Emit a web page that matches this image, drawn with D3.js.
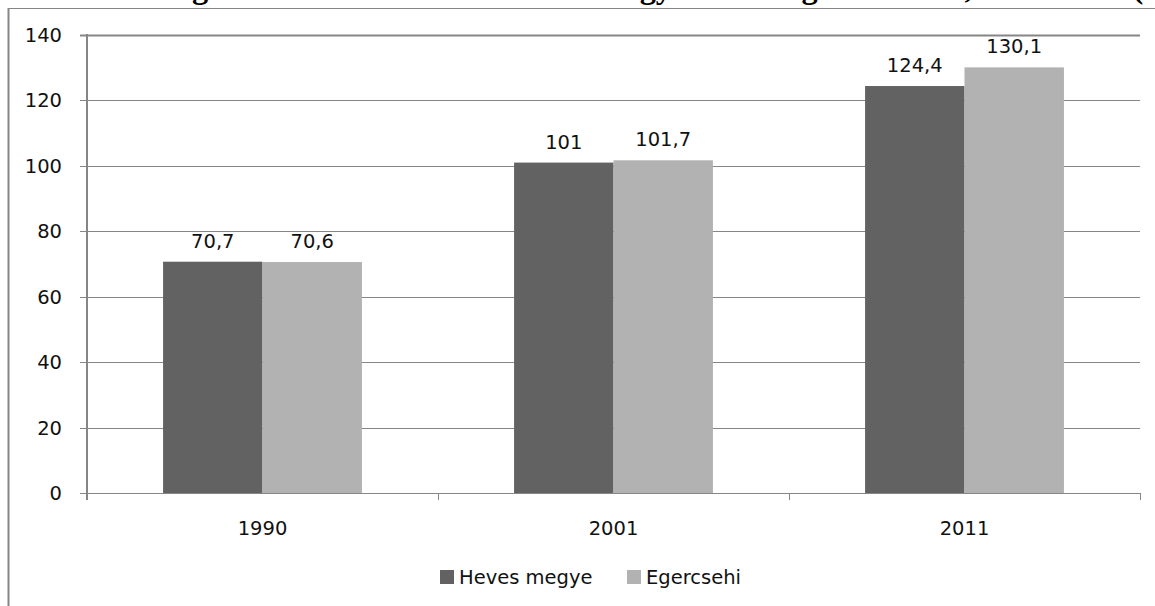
<!DOCTYPE html>
<html><head><meta charset="utf-8">
<script src="https://cdn.jsdelivr.net/npm/d3@7"></script>
<style>body{margin:0;background:#fff;overflow:hidden}svg{display:block;overflow:hidden}</style>
</head><body>
<svg id="c" width="1155" height="606"></svg>
<script>
const title = "3. táblázat: Az öregedési index alakulása Heves megyében és Egercsehiben, 1990–2011 (%)";
const categories = ["1990", "2001", "2011"];
const seriesNames = ["Heves megye", "Egercsehi"];
const hevesValues = [70.7, 101, 124.4];
const egercsehiValues = [70.6, 101.7, 130.1];
const valueLabels = [["70,7", "101", "124,4"], ["70,6", "101,7", "130,1"]];
const yTicks = [0, 20, 40, 60, 80, 100, 120, 140];
const colors = ["#626262", "#b2b2b2"];

const svg = d3.select("#c");
const font = "'DejaVu Sans', sans-serif";
const fs = 19.5;

// clipped title at very top: only the lowest pixels and descenders are visible
svg.append("clipPath").attr("id", "titleClip")
  .append("rect").attr("x", 0).attr("y", 0).attr("width", 1155).attr("height", 8);
const t = svg.append("g").attr("clip-path", "url(#titleClip)")
  .append("text").attr("x", 0).attr("y", -2)
  .attr("font-family", "'Liberation Serif', serif").attr("font-weight", "bold")
  .attr("font-size", 26).attr("fill", "#000")
  .text(title);
try {
  const node = t.node();
  const gi = title.indexOf("öregedési") + 3;
  const pi = title.lastIndexOf("(");
  const a = node.getStartPositionOfChar(gi).x;
  const b = node.getStartPositionOfChar(pi).x;
  if (b > a) {
    const s = (1133 - 192) / (b - a);
    t.attr("font-size", 26 * s);
    const a2 = node.getStartPositionOfChar(gi).x;
    t.attr("x", 192 - a2);
  }
} catch (e) { t.attr("x", -57); }

// outer frame
svg.append("line").attr("x1", 8).attr("x2", 1155).attr("y1", 8.5).attr("y2", 8.5)
  .attr("stroke", "#868686").attr("stroke-width", 1);
svg.append("line").attr("x1", 8.5).attr("x2", 8.5).attr("y1", 8).attr("y2", 606)
  .attr("stroke", "#868686").attr("stroke-width", 2);

const pLeft = 87, pRight = 1140, pTop = 35, pBottom = 493;
const x = d3.scaleBand().domain(categories).range([pLeft, pRight]).paddingInner(0).paddingOuter(0);
const y = d3.scaleLinear().domain([0, 140]).range([pBottom, pTop]);
const barW = x.bandwidth() / 3.53;
const x1 = d3.scaleBand().domain([0, 1]).range([0, 2 * barW]);

// gridlines
svg.append("g").selectAll("line").data(yTicks).join("line")
  .attr("x1", pLeft - 7).attr("x2", pRight)
  .attr("y1", d => Math.round(y(d)) + 0.5).attr("y2", d => Math.round(y(d)) + 0.5)
  .attr("stroke", "#868686").attr("stroke-width", d => d === 140 ? 2 : 1);

// y tick labels
svg.append("g").selectAll("text").data(yTicks).join("text")
  .attr("x", 62).attr("y", d => y(d) + 7)
  .attr("text-anchor", "end").attr("font-family", font).attr("font-size", fs)
  .attr("fill", "#111").text(d => d);

// bars
const series = [hevesValues, egercsehiValues];
series.forEach((vals, si) => {
  const g = svg.append("g");
  g.selectAll("rect").data(vals).join("rect")
    .attr("x", (d, i) => x(categories[i]) + (x.bandwidth() - 2 * barW) / 2 + x1(si))
    .attr("width", barW)
    .attr("y", d => y(d)).attr("height", d => pBottom - y(d))
    .attr("fill", colors[si]);
  g.selectAll("text").data(vals).join("text")
    .attr("x", (d, i) => x(categories[i]) + (x.bandwidth() - 2 * barW) / 2 + x1(si) + barW / 2)
    .attr("y", d => y(d) - 14)
    .attr("text-anchor", "middle").attr("font-family", font).attr("font-size", fs)
    .attr("fill", "#111").text((d, i) => valueLabels[si][i]);
});

// y axis line
svg.append("line").attr("x1", pLeft).attr("x2", pLeft).attr("y1", pTop - 1).attr("y2", pBottom + 7)
  .attr("stroke", "#868686").attr("stroke-width", 2);
// x axis line
svg.append("line").attr("x1", pLeft).attr("x2", pRight).attr("y1", pBottom + 0.5).attr("y2", pBottom + 0.5)
  .attr("stroke", "#868686").attr("stroke-width", 1);
// x ticks at category boundaries
const bounds = categories.map(c => x(c)).concat([pRight]);
svg.append("g").selectAll("line").data(bounds).join("line")
  .attr("x1", d => Math.round(d) + 0.5).attr("x2", d => Math.round(d) + 0.5)
  .attr("y1", pBottom).attr("y2", pBottom + 7)
  .attr("stroke", "#868686").attr("stroke-width", 1);

// category labels
svg.append("g").selectAll("text").data(categories).join("text")
  .attr("x", d => x(d) + x.bandwidth() / 2).attr("y", 535)
  .attr("text-anchor", "middle").attr("font-family", font).attr("font-size", fs)
  .attr("fill", "#111").text(d => d);

// legend
const legend = svg.append("g").attr("transform", "translate(440,570)");
const legX = [0, 187];
seriesNames.forEach((n, i) => {
  legend.append("rect").attr("x", legX[i]).attr("y", 0).attr("width", 14).attr("height", 14).attr("fill", colors[i]);
  legend.append("text").attr("x", legX[i] + 19).attr("y", 14)
    .attr("font-family", font).attr("font-size", fs).attr("fill", "#111").text(n);
});
</script>
</body></html>
